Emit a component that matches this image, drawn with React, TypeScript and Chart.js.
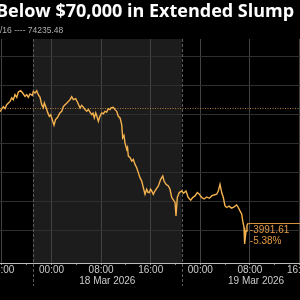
import React, { useEffect, useRef } from 'react';
import { Chart, registerables } from 'chart.js';

Chart.register(...registerables);

// ---- Data ----
const TITLE = 'Below $70,000 in Extended Slump';
const SUBTITLE = '/16 ---- 74235.48';
const PREV_CLOSE = 74235.48;

// hours relative to 18 Mar 2026 00:00 (axis time zone)
const hours = [
  -8.31, -7.77, -7.5, -7.23, -6.69, -6.42, -6.16, -5.89, -5.61, -5.35,
  -4.97, -4.65, -4.27, -4.0, -3.74, -3.47, -3.1, -2.94, -2.66, -2.39,
  -2.13, -1.85, -1.58, -1.32, -1.16, -0.89, -0.61, -0.35, -0.13, 0.19,
  0.4, 0.65, 0.89, 1.13, 1.37, 1.65, 1.9, 2.18, 2.45, 2.71,
  2.98, 3.26, 3.52, 3.9, 4.23, 4.6, 4.87, 5.13, 5.4, 5.68,
  5.94, 6.21, 6.48, 6.69, 6.9, 7.13, 7.34, 7.55, 7.82, 8.1,
  8.35, 8.63, 8.9, 9.16, 9.44, 9.6, 9.97, 10.24, 10.52, 10.77,
  11.05, 11.32, 11.48, 11.69, 11.85, 12.13, 12.26, 12.39, 12.66, 12.94,
  13.19, 13.47, 13.74, 14.0, 14.27, 14.55, 14.81, 15.08, 15.35, 15.56,
  15.77, 15.97, 16.16, 16.42, 16.65, 16.85, 17.23, 17.61, 17.94, 18.15,
  18.47, 18.84, 19.11, 19.39, 19.76, 19.92, 20.08, 20.29, 20.61, 21.0,
  21.29, 21.69, 22.06, 22.45, 22.77, 23.15, 23.52, 23.84, 24.23, 24.6,
  25.03, 25.45, 25.84, 26.21, 26.65, 26.9, 27.18, 27.45, 27.71, 27.98,
  28.26, 28.63, 29.06, 29.44, 29.87, 30.13, 30.4, 30.68, 30.84, 31.05,
  31.15, 31.37, 31.53, 31.74,
];

const prices = [
  74103, 74276, 74207, 74345, 74459, 74586, 74517, 74690, 74597, 74783,
  74828, 74748, 74631, 74690, 74597, 74714, 74665, 74803, 74748, 74828,
  74690, 74597, 74345, 74241, 74403, 74252, 74069, 73941, 74000, 73769,
  73638, 73828, 73879, 73966, 74069, 74114, 74276, 74345, 74397, 74459,
  74517, 74621, 74517, 74552, 74414, 74231, 74321, 74259, 74172, 74114,
  74183, 74086, 74000, 74052, 73886, 74059, 73931, 73769, 73948, 74059,
  74030, 74114, 74086, 74207, 74172, 74231, 74252, 74172, 74114, 73941,
  73886, 73655, 73196, 73276, 73024, 72793, 72862, 72562, 72517, 72390,
  72448, 72276, 72162, 71990, 71817, 71700, 71472, 71241, 71414, 71310,
  71300, 71414, 71355, 71241, 71345, 71414, 71528, 71759, 71872, 71700,
  71586, 71528, 71414, 71128, 71010, 70966, 70493, 71128, 71300, 71355,
  71276, 71355, 71128, 71035, 71128, 71183, 71300, 71241, 71128, 71079,
  71148, 71103, 71183, 71217, 71241, 71355, 71586, 71300, 71128, 70838,
  70783, 70828, 70759, 70803, 70872, 70783, 70666, 70552, 70321, 70093,
  69517, 69966, 70172, 70243.87,
];

const tickHours = [-8, -4, 0, 4, 8, 12, 16, 20, 24, 28, 32, 36, 40];
const dayBoundaryHours = [-3, 21];
const shadedDay = [-3, 21];
const dayLabelHours = [9, 33];
const dayLabels = ['18 Mar 2026', '19 Mar 2026'];
const priceGridLines = [70000, 71000, 72000, 73000, 74000, 75000, 76000];

const X_MIN = -8.31;
const X_MAX = 40.08;
const Y_MIN = 68860;
const Y_MAX = 76620;

// ---- Layout constants ----
const OFF = 20; // canvas extends 20px beyond both sides of the visible window
const W = 340;
const H = 300;
const TICK_FONT = '"Liberation Sans", Arial, sans-serif';

function hourLabel(h: number) {
  const hh = ((h % 24) + 24) % 24;
  return String(hh).padStart(2, '0') + ':00';
}

export default function App() {
  const ref = useRef<HTMLCanvasElement | null>(null);

  useEffect(() => {
    const canvas = ref.current;
    if (!canvas) return;

    const last = prices[prices.length - 1];
    const change = last - PREV_CLOSE;
    const changeLabel = change.toFixed(2);
    const pctLabel = ((change / PREV_CLOSE) * 100).toFixed(2) + '%';

    const decor = {
      id: 'decor',
      beforeDraw(chart: any) {
        const { ctx, chartArea: a, scales } = chart;
        ctx.save();
        ctx.fillStyle = '#000';
        ctx.fillRect(0, 0, chart.width, chart.height);
        const x0 = scales.x.getPixelForValue(shadedDay[0]);
        const x1 = scales.x.getPixelForValue(shadedDay[1]);
        ctx.fillStyle = '#1c1c1c';
        ctx.fillRect(x0, a.top, x1 - x0, a.bottom - a.top);
        ctx.restore();
      },
      beforeDatasetsDraw(chart: any) {
        const { ctx, chartArea: a, scales } = chart;
        ctx.save();
        // day separators
        ctx.strokeStyle = '#5a5a5a';
        ctx.lineWidth = 1;
        ctx.setLineDash([3, 2]);
        dayBoundaryHours.forEach((h) => {
          const x = Math.round(scales.x.getPixelForValue(h)) + 0.5;
          ctx.beginPath();
          ctx.moveTo(x, a.top);
          ctx.lineTo(x, a.bottom + 23);
          ctx.stroke();
        });
        // previous close dotted line
        const yr = Math.round(scales.y.getPixelForValue(PREV_CLOSE)) + 0.5;
        ctx.strokeStyle = '#b07a3a';
        ctx.setLineDash([1, 1.5]);
        ctx.beginPath();
        ctx.moveTo(a.left, yr);
        ctx.lineTo(a.right, yr);
        ctx.stroke();
        ctx.restore();
      },
      afterDraw(chart: any) {
        const { ctx, chartArea: a, scales } = chart;
        ctx.save();
        // last value line + labels
        const lx = scales.x.getPixelForValue(hours[hours.length - 1]);
        const ly = Math.round(scales.y.getPixelForValue(last)) + 0.5;
        ctx.strokeStyle = '#d8913c';
        ctx.lineWidth = 1;
        ctx.beginPath();
        ctx.moveTo(lx, ly);
        ctx.lineTo(a.right, ly);
        ctx.stroke();
        ctx.fillStyle = '#e39a45';
        ctx.font = '10px ' + TICK_FONT;
        ctx.textBaseline = 'middle';
        ctx.textAlign = 'left';
        ctx.fillText(changeLabel, lx + 1.5, ly + 6.5);
        ctx.fillText(pctLabel, lx + 1.5, ly + 17.5);
        // title & subtitle
        ctx.fillStyle = '#ffffff';
        ctx.font = 'bold 18px "Open Sans", "Liberation Sans", sans-serif';
        ctx.textBaseline = 'alphabetic';
        ctx.fillText(TITLE, OFF - 4, 17);
        ctx.fillStyle = '#b0b0b0';
        ctx.font = '8.5px ' + TICK_FONT;
        ctx.textBaseline = 'middle';
        ctx.fillText(SUBTITLE, OFF, 31);
        ctx.restore();
      },
    };

    const chart = new Chart(canvas, {
      type: 'line',
      data: {
        datasets: [
          {
            data: hours.map((h, i) => ({ x: h, y: prices[i] })),
            borderColor: '#f4b24e',
            borderWidth: 1.4,
            pointRadius: 0,
            tension: 0,
            fill: false,
          },
        ],
      },
      options: {
        responsive: false,
        animation: false,
        devicePixelRatio: 1,
        layout: { padding: { left: OFF, right: OFF, top: 39, bottom: 13 } },
        plugins: {
          legend: { display: false },
          tooltip: { enabled: false },
          title: { display: false },
        },
        scales: {
          x: {
            type: 'linear',
            position: 'bottom',
            min: X_MIN,
            max: X_MAX,
            weight: 0,
            afterBuildTicks: (s: any) => {
              s.ticks = tickHours.map((v) => ({ value: v }));
            },
            grid: {
              drawTicks: true,
              tickLength: 2,
              color: (c: any) =>
                c.tick && c.tick.value % 8 === 0 ? '#424242' : 'rgba(0,0,0,0)',
              tickColor: '#8a8a8a',
            },
            border: { display: true, color: '#bdbdbd', width: 1 },
            ticks: {
              autoSkip: false,
              maxRotation: 0,
              padding: 0,
              color: '#cccccc',
              font: { family: TICK_FONT, size: 10, lineHeight: 1 },
              callback: (v: any) => (Number(v) % 8 === 0 ? hourLabel(Number(v)) : ''),
            },
          },
          x2: {
            type: 'linear',
            position: 'bottom',
            min: X_MIN,
            max: X_MAX,
            weight: 1,
            afterBuildTicks: (s: any) => {
              s.ticks = dayLabelHours.map((v) => ({ value: v }));
            },
            grid: { display: false, drawTicks: false },
            border: { display: false },
            ticks: {
              autoSkip: false,
              maxRotation: 0,
              padding: 1,
              color: '#cccccc',
              font: { family: TICK_FONT, size: 10, lineHeight: 1 },
              callback: (_v: any, i: number) => dayLabels[i],
            },
          },
          y: {
            type: 'linear',
            min: Y_MIN,
            max: Y_MAX,
            afterBuildTicks: (s: any) => {
              s.ticks = priceGridLines.map((v) => ({ value: v }));
            },
            ticks: { display: false },
            grid: { color: '#2f2f2f', drawTicks: false },
            border: { display: false },
          },
        },
      } as any,
      plugins: [decor],
    });

    return () => chart.destroy();
  }, []);

  return (
    <div
      style={{
        position: 'fixed',
        left: 0,
        top: 0,
        width: 300,
        height: 300,
        overflow: 'hidden',
        background: '#000',
      }}
    >
      <div style={{ position: 'absolute', left: -OFF, top: 0, width: W, height: H }}>
        <canvas ref={ref} width={W} height={H} style={{ display: 'block' }} />
      </div>
    </div>
  );
}
